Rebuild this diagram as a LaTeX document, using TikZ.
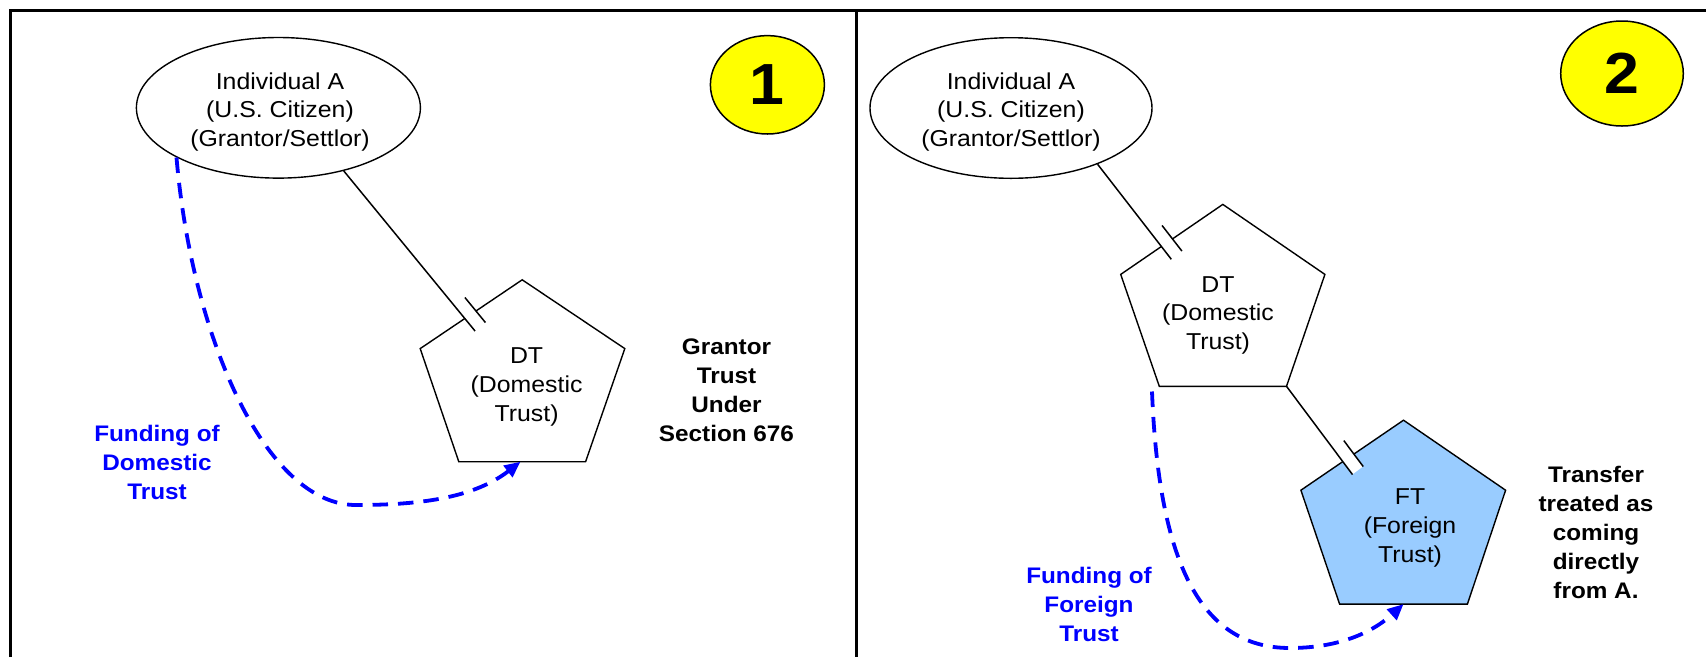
\documentclass[tikz,border=0pt]{standalone}
\usepackage{fontspec}
\setmainfont{Liberation Sans}[FakeStretch=1.08]
\usetikzlibrary{shapes.geometric,arrows.meta,calc}
\definecolor{ftblue}{HTML}{99CCFF}
\definecolor{fundblue}{RGB}{0,0,255}
\definecolor{sun}{RGB}{255,255,0}
\begin{document}
\begin{tikzpicture}[x=1pt,y=-1pt,
  frame/.style={line width=3.3pt},
  person/.style={ellipse, draw, line width=1.4pt, inner sep=0pt, minimum width=284pt, minimum height=140.6pt},
  badge/.style={ellipse, draw, line width=1.5pt, fill=sun, inner sep=0pt, font=\bfseries\fontsize{58}{58}\selectfont},
  pent/.style={draw, line width=1.4pt, line join=miter},
  lbl/.style={font=\fontsize{23}{28.7}\selectfont, align=center, inner sep=0pt},
  blbl/.style={font=\bfseries\fontsize{22.5}{29}\selectfont, align=center, inner sep=0pt},
  fundlbl/.style={blbl, text=fundblue},
  conn/.style={line width=1.5pt},
  band/.style={sloped, allow upside down, anchor=south, pos=1, fill=white, inner sep=0pt, minimum width=32pt, minimum height=13pt},
  fundarrow/.style={draw=fundblue, line width=3.8pt, dash pattern=on 15.5pt off 10pt, -{Triangle[length=16pt,width=14pt]}}
]
\useasboundingbox (0,0) rectangle (1706,657);

% frame
\draw[frame] (10.7,657) -- (10.7,10.7) -- (1706,10.7);
\draw[frame] (856.5,10.7) -- (856.5,657);

% ---------------- panel 1 ----------------
\node[person] (A1) at (278.4,107.8) {};
\node[lbl] (A1t) at (280,112) {Individual A\\(U.S. Citizen)\\(Grantor/Settlor)};
\node[badge, minimum width=114pt, minimum height=98.4pt] (b1) at (767.4,84.8) {1};

\coordinate (dt1t) at (522.2,279.8);
\coordinate (dt1r) at (624.8,348.6);
\coordinate (dt1br) at (585.6,461.7);
\coordinate (dt1bl) at (458.8,461.7);
\coordinate (dt1l) at (420.2,348.6);
\draw[pent] (dt1t) -- (dt1r) -- (dt1br) -- (dt1bl) -- (dt1l) -- cycle;
\node[lbl] (dt1) at (526.6,387) {DT\\(Domestic\\Trust)};
\coordinate (dt1in) at (464.8,318.5);
\coordinate (fund1) at (520.5,461.7);

\path (A1.-44.9) -- (dt1in) node[band] (bd1) {};
\draw[conn] (A1.-44.9) -- (bd1.south east);
\draw[conn] (bd1.north west) -- (bd1.north east);

\node[blbl] (gt) at (726.5,390.6) {Grantor\\Trust\\Under\\Section 676};
\node[fundlbl] (f1) at (157,462.5) {Funding of\\Domestic\\Trust};
\draw[fundarrow] (A1.206.4) .. controls (192,338.4) and (266,505) .. (356,505)
  .. controls (416,505) and (472.5,499) .. (fund1);

% ---------------- panel 2 ----------------
\node[person, minimum width=282pt] (A2) at (1011,108) {};
\node[lbl] (A2t) at (1011,112) {Individual A\\(U.S. Citizen)\\(Grantor/Settlor)};
\node[badge, minimum width=122.6pt, minimum height=105pt] (b2) at (1622,73.5) {2};

\coordinate (dt2t) at (1222.8,204.4);
\coordinate (dt2r) at (1324.9,274.4);
\coordinate (dt2br) at (1286.5,386.3);
\coordinate (dt2bl) at (1159.3,386.3);
\coordinate (dt2l) at (1120.7,274.4);
\draw[pent] (dt2t) -- (dt2r) -- (dt2br) -- (dt2bl) -- (dt2l) -- cycle;
\node[lbl] (dt2) at (1218,315.2) {DT\\(Domestic\\Trust)};
\coordinate (dt2in) at (1161.4,246.5);
\coordinate (dt2fund) at (1152,391.5);

\coordinate (ftt) at (1403.5,420.2);
\coordinate (ftr) at (1505.6,490.2);
\coordinate (ftbr) at (1467.4,604.1);
\coordinate (ftbl) at (1339.6,604.1);
\coordinate (ftl) at (1300.9,490.2);
\draw[pent, fill=ftblue] (ftt) -- (ftr) -- (ftbr) -- (ftbl) -- (ftl) -- cycle;
\node[lbl] (ft) at (1410,527.8) {FT\\(Foreign\\Trust)};
\coordinate (ftin) at (1342.8,461.6);
\coordinate (fund2) at (1403.5,604.1);

\path (A2.-33.3) -- (dt2in) node[band] (bd2) {};
\draw[conn] (A2.-33.3) -- (bd2.south east);
\draw[conn] (bd2.north west) -- (bd2.north east);

\path (dt2br) -- (ftin) node[band] (bd3) {};
\draw[conn] (dt2br) -- (bd3.south east);
\draw[conn] (bd3.north west) -- (bd3.north east);

\node[blbl] (tr) at (1596,532) {Transfer\\treated as\\coming\\directly\\from A.};
\node[fundlbl] (f2) at (1089,604.5) {Funding of\\Foreign\\Trust};
\draw[fundarrow] (dt2fund) .. controls (1158.7,561.7) and (1200,648) .. (1290,648)
  .. controls (1335,648) and (1369.75,634.7) .. (fund2);
\end{tikzpicture}
\end{document}
